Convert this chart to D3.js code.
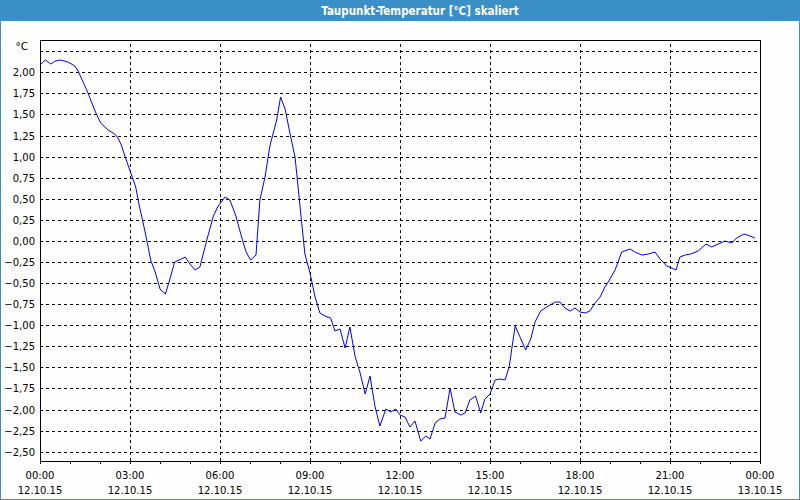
<!DOCTYPE html>
<html>
<head>
<meta charset="utf-8">
<script src="https://cdn.jsdelivr.net/npm/d3@7"></script>
<style>
  html, body { margin: 0; padding: 0; background: #fdfefd; }
  svg text { font-family: "DejaVu Sans", Verdana, sans-serif; }
</style>
</head>
<body>
<div id="chart"></div>
<script>
// Taupunkt over one day, hours since 12.10.15 00:00
const hours = [0, 0.18, 0.36, 0.51, 0.68, 0.93, 1.16, 1.27, 1.6, 1.82, 2.02, 2.27, 2.49, 2.6, 2.71, 2.84,
  3.04, 3.19, 3.29, 3.49, 3.69, 3.84, 4.0, 4.18, 4.32, 4.49, 4.71, 4.84, 5.0, 5.17, 5.33, 5.56, 5.78, 5.94,
  6.17, 6.33, 6.53, 6.72, 6.87, 7.02, 7.2, 7.33, 7.5, 7.67, 7.89, 8.02, 8.17, 8.33, 8.5, 8.58, 8.69, 8.83,
  9.0, 9.17, 9.33, 9.5, 9.69, 9.83, 10.0, 10.17, 10.33, 10.5, 10.67, 10.84, 11.0, 11.17, 11.33, 11.53, 11.69, 11.86,
  12.0, 12.17, 12.33, 12.5, 12.69, 12.86, 13.0, 13.17, 13.33, 13.5, 13.67, 13.83, 14.03, 14.17, 14.33, 14.52, 14.69, 14.83,
  15.0, 15.17, 15.33, 15.5, 15.64, 15.74, 15.84, 16.0, 16.19, 16.36, 16.5, 16.69, 16.89, 17.17, 17.33, 17.5, 17.67, 17.83,
  18.0, 18.17, 18.33, 18.5, 18.67, 18.83, 18.98, 19.17, 19.39, 19.67, 19.83, 20.06, 20.28, 20.5, 20.67, 20.89,
  21.06, 21.2, 21.33, 21.5, 21.69, 21.94, 22.2, 22.39, 22.61, 22.83, 23.06, 23.22, 23.47, 23.67, 23.83];

const dewpoint = [2.09, 2.14, 2.10, 2.13, 2.15, 2.12, 2.07, 2.02, 1.75, 1.55, 1.40, 1.32, 1.27, 1.22, 1.14, 1.00,
  0.79, 0.64, 0.45, 0.13, -0.23, -0.37, -0.57, -0.63, -0.46, -0.25, -0.21, -0.19, -0.27, -0.34, -0.31, 0.01, 0.29, 0.41,
  0.52, 0.48, 0.29, 0.05, -0.13, -0.23, -0.17, 0.49, 0.76, 1.14, 1.43, 1.71, 1.57, 1.28, 1.00, 0.72, 0.33, -0.15,
  -0.38, -0.66, -0.85, -0.89, -0.91, -1.07, -1.04, -1.27, -1.02, -1.37, -1.57, -1.81, -1.60, -1.97, -2.20, -1.99, -2.03, -1.99,
  -2.07, -2.09, -2.21, -2.13, -2.37, -2.31, -2.35, -2.16, -2.11, -2.10, -1.75, -2.03, -2.07, -2.04, -1.89, -1.84, -2.04, -1.87,
  -1.81, -1.65, -1.64, -1.65, -1.49, -1.25, -1.01, -1.14, -1.29, -1.16, -0.96, -0.83, -0.78, -0.72, -0.73, -0.80, -0.83, -0.80,
  -0.84, -0.86, -0.83, -0.74, -0.66, -0.55, -0.46, -0.35, -0.13, -0.09, -0.13, -0.17, -0.15, -0.13, -0.22, -0.30,
  -0.32, -0.35, -0.19, -0.17, -0.16, -0.12, -0.04, -0.07, -0.04, 0.00, -0.02, 0.04, 0.08, 0.06, 0.03];

const xMajor = [0, 3, 6, 9, 12, 15, 18, 21, 24];
const xTimes = ["00:00", "03:00", "06:00", "09:00", "12:00", "15:00", "18:00", "21:00", "00:00"];
const xDates = ["12.10.15", "12.10.15", "12.10.15", "12.10.15", "12.10.15", "12.10.15", "12.10.15", "12.10.15", "13.10.15"];
const yLabelTicks = [-2.5, -2.25, -2, -1.75, -1.5, -1.25, -1, -0.75, -0.5, -0.25, 0, 0.25, 0.5, 0.75, 1, 1.25, 1.5, 1.75, 2];
const yGridTicks = yLabelTicks.concat([2.25]);

const title = "Taupunkt-Temperatur [°C] skaliert";
const unit = "°C";

const W = 800, H = 500;
const frame = '#3a8fc6';
const plot = {left: 40, right: 760, top: 40, bottom: 461};

const svg = d3.select('#chart').append('svg')
  .attr('width', W)
  .attr('height', H);

// window frame + title bar
svg.append('rect')
  .attr('x', 0.5).attr('y', 0.5)
  .attr('width', W - 1).attr('height', H - 1)
  .attr('fill', '#fdfefd')
  .attr('stroke', frame);

svg.append('rect')
  .attr('x', 0).attr('y', 0)
  .attr('width', W).attr('height', 21)
  .attr('fill', frame);

svg.append('text')
  .attr('x', 420).attr('y', 10.5)
  .attr('dy', '0.35em')
  .attr('text-anchor', 'middle')
  .style('font-family', '"DejaVu Sans Condensed", "DejaVu Sans", sans-serif')
  .style('font-weight', 'bold')
  .style('font-size', '11.5px')
  .attr('fill', '#fff')
  .text(title);

const x = d3.scaleLinear().domain([0, 24]).range([plot.left, plot.right]);
const y = d3.scaleLinear().domain([-2.61, 2.383]).rangeRound([plot.bottom, plot.top]);

// dashed grid
svg.append('g')
  .attr('class', 'grid y')
  .attr('transform', 'translate(' + plot.left + ',0)')
  .call(d3.axisLeft(y).tickValues(yGridTicks).tickSize(-(plot.right - plot.left)).tickFormat(''))
  .call(g => g.select('.domain').remove())
  .selectAll('line')
  .attr('stroke', '#000')
  .attr('stroke-dasharray', '3,3');

svg.append('g')
  .attr('class', 'grid x')
  .attr('transform', 'translate(0,' + plot.bottom + ')')
  .call(d3.axisBottom(x).tickValues(xMajor.slice(1, -1)).tickSize(-(plot.bottom - plot.top)).tickFormat(''))
  .call(g => g.select('.domain').remove())
  .selectAll('line')
  .attr('stroke', '#000')
  .attr('stroke-dasharray', '3,3');

// y labels
svg.append('g')
  .attr('class', 'y axis')
  .attr('transform', 'translate(' + plot.left + ',0)')
  .call(d3.axisLeft(y).tickValues(yLabelTicks).tickSize(0).tickPadding(5)
    .tickFormat(d => d3.format('.2f')(d).replace('.', ',')))
  .call(g => g.select('.domain').remove())
  .selectAll('text')
  .style('font-size', '10px')
  .style('font-family', '"DejaVu Sans", sans-serif')
  .attr('fill', '#000');

svg.append('text')
  .attr('x', 28).attr('y', 46)
  .attr('dy', '0.35em')
  .attr('text-anchor', 'end')
  .style('font-size', '10.5px')
  .text(unit);

// x axis, hourly small ticks
svg.append('g')
  .attr('class', 'x axis')
  .attr('transform', 'translate(0,' + plot.bottom + ')')
  .call(d3.axisBottom(x).tickValues(d3.range(0, 25)).tickSize(3).tickSizeOuter(0).tickFormat(''))
  .call(g => g.select('.domain').remove())
  .selectAll('line')
  .attr('stroke', '#000');

const xl = svg.append('g').attr('class', 'x labels');
xl.selectAll('text.time')
  .data(xMajor)
  .enter().append('text')
  .attr('class', 'time')
  .attr('x', d => x(d))
  .attr('y', 479)
  .attr('text-anchor', 'middle')
  .style('font-size', '10px')
  .text((d, i) => xTimes[i]);
xl.selectAll('text.date')
  .data(xMajor)
  .enter().append('text')
  .attr('class', 'date')
  .attr('x', d => x(d))
  .attr('y', 494)
  .attr('text-anchor', 'middle')
  .style('font-size', '10px')
  .text((d, i) => xDates[i]);

// plot border
svg.append('rect')
  .attr('x', plot.left + 0.5).attr('y', plot.top + 0.5)
  .attr('width', plot.right - plot.left).attr('height', plot.bottom - plot.top)
  .attr('fill', 'none')
  .attr('stroke', '#000');

// the curve
const line = d3.line()
  .x((d, i) => x(hours[i]))
  .y(d => y(d));

svg.append('path')
  .datum(dewpoint)
  .attr('fill', 'none')
  .attr('stroke', '#0000ff')
  .attr('stroke-width', 1)
  .attr('d', line);
</script>
</body>
</html>
